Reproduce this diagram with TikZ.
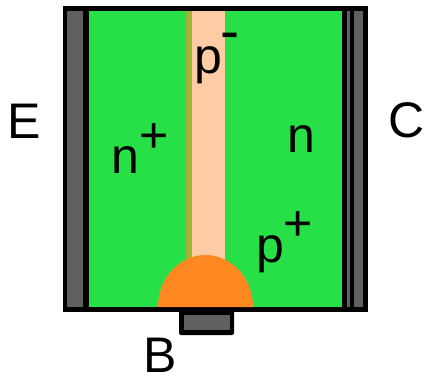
\documentclass[tikz,border=0pt]{standalone}
\usepackage{fontspec}
\setmainfont{Liberation Sans}
\definecolor{grn}{RGB}{39,224,72}
\definecolor{gry}{RGB}{96,96,96}
\definecolor{peach}{RGB}{255,204,165}
\definecolor{olive}{RGB}{163,178,56}
\definecolor{org}{RGB}{255,136,33}
\tikzset{
  lbl/.style={inner sep=0pt,anchor=base west,font=\fontsize{50}{50}\selectfont,text=black},
}
\begin{document}
\begin{tikzpicture}[x=1pt,y=-1pt]
\useasboundingbox (0,0) rectangle (425,375);
\fill[white] (0,0) rectangle (425,375);
% outer black body
\fill[black] (63,6) rectangle (367.5,311.5);
\fill[gry] (67,11) rectangle (83,307);
\fill[grn] (88.5,11) rectangle (342,307);
\fill[gry] (346.5,11) rectangle (349.5,307);
\fill[gry] (353.5,11) rectangle (362.5,307);
% p stripe
\fill[olive] (186,11) rectangle (191.5,300);
\fill[peach] (191.5,11) rectangle (224.5,300);
% base contact
\fill[black,rounded corners=2pt] (179,307) rectangle (234,335);
\fill[gry] (184,314.5) rectangle (229.5,329.5);
% p+ region
\fill[org] (158,307) arc[start angle=180,end angle=360,x radius=47.5,y radius=52] -- cycle;
% labels
\node[lbl] (E) at (7,138) {E};
\node[lbl] (C) at (388.5,137.5) {C};
\node[lbl] (nl) at (111.7,173) {n};
\node[lbl] (pl) at (139,152) {+};
\node[lbl] (nr) at (287.7,152) {n};
\node[lbl] (p1) at (194.7,73) {p};
\node[lbl,font=\fontsize{57}{57}\selectfont] (m) at (220.5,50.3) {-};
\node[lbl] (p2) at (256.2,262) {p};
\node[lbl] (p3) at (283,240.5) {+};
\node[lbl] (B) at (143,372) {B};
\end{tikzpicture}
\end{document}
